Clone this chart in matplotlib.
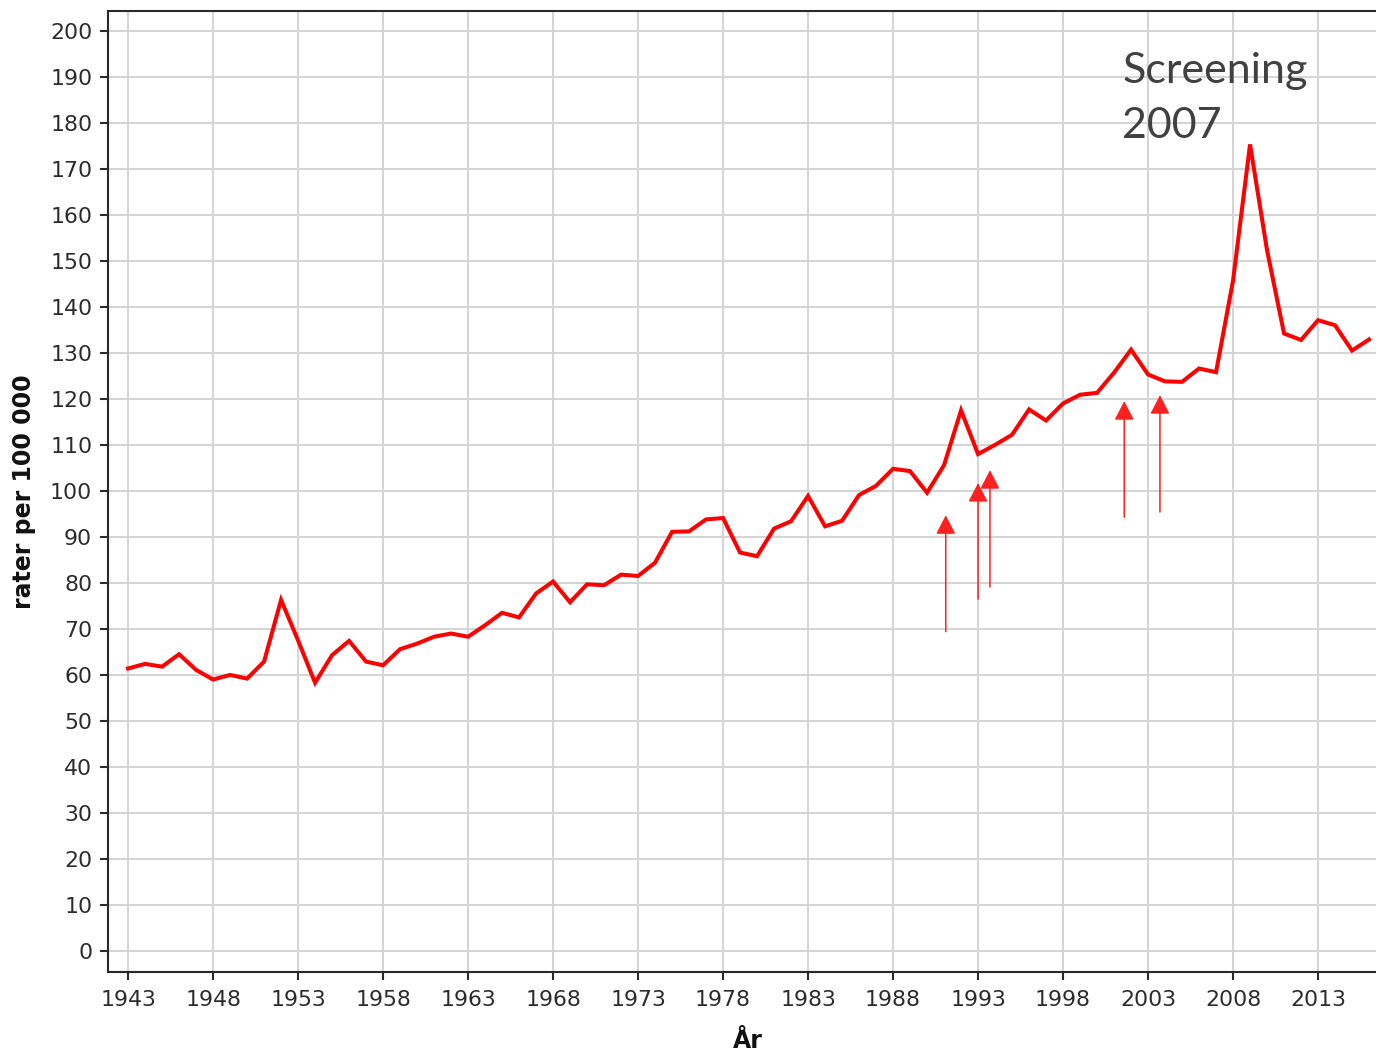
import matplotlib
matplotlib.use("Agg")
import matplotlib.pyplot as plt
import numpy as np

# ---- data ----
years = list(range(1943, 2017))
rates = [61.4, 62.4, 61.8, 64.5, 61.1, 59.0, 60.0, 59.2, 62.9, 76.3,
         67.5, 58.3, 64.3, 67.4, 62.9, 62.1, 65.6, 66.8, 68.3, 69.0,
         68.3, 70.8, 73.5, 72.5, 77.7, 80.3, 75.8, 79.7, 79.5, 81.8,
         81.5, 84.4, 91.1, 91.2, 93.8, 94.1, 86.6, 85.8, 91.8, 93.4,
         98.9, 92.3, 93.5, 99.1, 101.1, 104.8, 104.3, 99.6, 105.6, 117.5,
         108.0, 110.0, 112.2, 117.7, 115.3, 119.0, 120.9, 121.3, 125.7, 130.7,
         125.3, 123.8, 123.7, 126.6, 125.8, 145.7, 175.3, 152.3, 134.2, 132.8,
         137.1, 136.0, 130.5, 132.9]

xticks = list(range(1943, 2017, 5))
yticks = list(range(0, 201, 10))

arrow_years = [1991.1, 1993.0, 1993.7, 2001.6, 2003.7]
arrow_start = [69.4, 76.5, 79.1, 94.3, 95.4]
arrow_end = [94.7, 101.7, 104.5, 119.5, 120.8]

annotation_lines = ["Screening", "2007"]

# ---- figure ----
W, H = 1376, 1053
fig = plt.figure(figsize=(W / 100, H / 100), dpi=100)
ax_left, ax_right = 107.5 / W, 1.0
ax_bottom, ax_top = 1 - 971.7 / H, 1 - 11 / H
ax = fig.add_axes([ax_left, ax_bottom, ax_right - ax_left, ax_top - ax_bottom])

ax.plot(years, rates, color="#ff0000", linewidth=2.9, solid_joinstyle="miter", zorder=3)

for xa, y0, y1 in zip(arrow_years, arrow_start, arrow_end):
    ax.annotate("", xy=(xa, y1), xytext=(xa, y0),
                arrowprops=dict(arrowstyle="-|>,head_length=0.58,head_width=0.3",
                                color="#ff2020", lw=1.1, shrinkA=0, shrinkB=0,
                                mutation_scale=20), zorder=4)

ax.set_xlim(1941.79, 2016.41)
ax.set_ylim(-4.5, 204.3)
ax.set_xticks(xticks)
ax.set_yticks(yticks)

ax.grid(True, color="#d4d4d4", linewidth=1.4, zorder=0)
ax.set_axisbelow(True)

for side in ["left", "bottom", "top"]:
    ax.spines[side].set_color("#2a2a2a")
    ax.spines[side].set_linewidth(1.5)
ax.spines["right"].set_visible(False)

ax.tick_params(axis="both", direction="out", length=6, width=1.5, color="#2a2a2a",
               labelsize=15.8, labelcolor="#2b2b2b")
ax.tick_params(axis="y", pad=5)
ax.tick_params(axis="x", pad=7)

ax.set_ylabel("rater per 100 000", fontsize=17, fontweight="bold", color="#111111")
ax.yaxis.set_label_coords((36 - 107.5) / (W - 107.5), 0.5)
ax.set_xlabel("År", fontsize=17, fontweight="bold", color="#111111")
ax.xaxis.set_label_coords((748 - 107.5) / (W - 107.5), -(1029 - 971.7) / 960.7)

ax.text(0.800, 0.9247, annotation_lines[0], transform=ax.transAxes, family="Lato",
        fontsize=31, color="#404040", ha="left", va="baseline")
ax.text(0.800, 0.8675, annotation_lines[1], transform=ax.transAxes, family="Lato",
        fontsize=31, color="#404040", ha="left", va="baseline")

fig.savefig("out.png", dpi=100, facecolor="white")
